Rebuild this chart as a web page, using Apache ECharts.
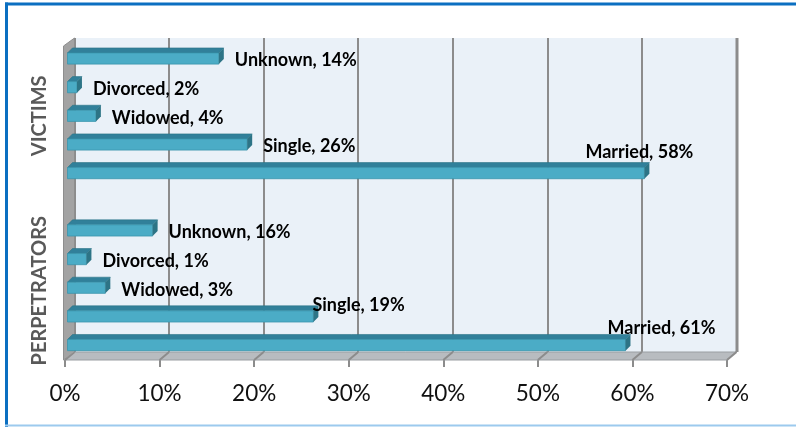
<!DOCTYPE html>
<html><head><meta charset="utf-8">
<script src="https://cdn.jsdelivr.net/npm/echarts@6/dist/echarts.min.js"></script>
<style>html,body{margin:0;padding:0;background:#fff}#c{width:796px;height:427px}</style>
</head><body><div id="c"></div>
<script>
// ---- data ----
const statuses = ["Unknown", "Divorced", "Widowed", "Single", "Married"];
const groups = ["VICTIMS", "PERPETRATORS"];
// bar lengths as drawn (%)
const victimsBar = [16, 1, 3, 19, 61];
const perpsBar = [9, 2, 4, 26, 59];
// values printed in the data labels (%)
const victimsLabelPct = [14, 2, 4, 26, 58];
const perpsLabelPct = [16, 1, 3, 19, 61];
const xTicks = [0, 10, 20, 30, 40, 50, 60, 70];

// ---- label placement tweaks (style, not data) ----
const victimsShift = [[0,0],[0,0],[0,0],[0,0],[-75,-23]];
const perpsShift = [[0,0],[0,0],[0,0],[-17,-13],[-34,-19]];

const rows = [];
const rowIds = [];
statuses.forEach((s, i) => { rowIds.push('V-' + s); rows.push([victimsBar[i], rowIds.length - 1, s + ', ' + victimsLabelPct[i] + '%', victimsShift[i][0], victimsShift[i][1]]); });
rowIds.push('gap');
statuses.forEach((s, i) => { rowIds.push('P-' + s); rows.push([perpsBar[i], rowIds.length - 1, s + ', ' + perpsLabelPct[i] + '%', perpsShift[i][0], perpsShift[i][1]]); });

const FONT = 'Lato, "Open Sans", sans-serif';
const chart = echarts.init(document.getElementById('c'), null, {renderer: 'canvas'});
const xMax = xTicks[xTicks.length - 1];
const D = 5;

chart.setOption({
  animation: false,
  grid: [
    {left: 74.5, top: 38, width: 662, height: 314, show: true, backgroundColor: '#eaf1f8', borderWidth: 0},
    {left: 65, top: 44, width: 662, height: 316},
    {left: 67.5, top: 44.2, width: 662, height: 315.2}
  ],
  xAxis: [
    {gridIndex: 0, type: 'value', min: 0, max: xMax, interval: 10, axisLine: {show: false}, axisTick: {show: false}, axisLabel: {show: false},
     splitLine: {show: true, lineStyle: {color: '#8c8c8c', width: 2}}},
    {gridIndex: 1, type: 'value', min: 0, max: xMax, interval: 10, axisLine: {show: false},
     axisTick: {show: true, length: 7, lineStyle: {color: '#8c8c8c', width: 2}},
     axisLabel: {show: true, formatter: '{value}%', fontFamily: FONT, fontSize: 22.5, color: '#111', margin: 22},
     splitLine: {show: false}},
    {gridIndex: 2, type: 'value', min: 0, max: xMax, show: false, splitLine: {show: false}}
  ],
  yAxis: [
    {gridIndex: 0, type: 'value', show: false, splitLine: {show: false}},
    {gridIndex: 1, type: 'value', show: false, splitLine: {show: false}},
    {gridIndex: 2, type: 'category', data: rowIds, inverse: true, show: false}
  ],
  series: [{
    type: 'custom',
    xAxisIndex: 2, yAxisIndex: 2,
    z: 5,
    data: rows,
    encode: {x: 0, y: 1},
    renderItem: function (params, api) {
      const v = api.value(0), r = api.value(1);
      const p0 = api.coord([0, r]);
      const p1 = api.coord([v, r]);
      const band = api.size([0, 1])[1];
      const h = band * 0.39;
      const x0 = p0[0], x1 = p1[0];
      const top = p0[1] - h / 2, bot = p0[1] + h / 2;
      const d = rows[params.dataIndex];
      return {
        type: 'group',
        children: [
          {type: 'polygon', shape: {points: [[x0, top], [x1, top], [x1 + D, top - D], [x0 + D, top - D]]}, style: {fill: '#31809a', stroke: '#2a7386', lineWidth: 0.6}},
          {type: 'rect', shape: {x: x0, y: top, width: x1 - x0, height: h}, style: {fill: '#4bacc6', stroke: '#3a95ad', lineWidth: 0.8}},
          {type: 'polygon', shape: {points: [[x1, top], [x1 + D, top - D], [x1 + D, bot - D], [x1, bot]]}, style: {fill: '#2d7486'}},
          {type: 'text', x: x1 + D + 11 + d[3], y: p0[1] + 2 + d[4],
           style: {text: d[2], fill: '#000', font: 'bold 18px ' + FONT, textAlign: 'left', textVerticalAlign: 'middle'}}
        ]
      };
    }
  }]
});

// decorations: walls, floor, frame, group titles
const fx = xTicks.map(t => chart.convertToPixel({xAxisIndex: 1}, t));
const bx = xTicks.map(t => chart.convertToPixel({xAxisIndex: 0}, t));
const frontY = 360, backY = 352, wallTopBack = 38, wallTopFront = 46;
const g = [];
g.push({type: 'polygon', z: 1, shape: {points: [[fx[0], frontY], [fx[fx.length - 1], frontY], [bx[bx.length - 1], backY], [bx[0], backY]]}, style: {fill: '#b8bcc0', stroke: '#9a9ea2', lineWidth: 1}});
for (let i = 0; i < xTicks.length; i++) {
  g.push({type: 'line', z: 2, shape: {x1: fx[i], y1: frontY, x2: bx[i], y2: backY}, style: {stroke: '#8c8c8c', lineWidth: 2}});
}
g.push({type: 'polygon', z: 2, shape: {points: [[fx[0] - 1.5, frontY], [fx[0] - 1.5, wallTopFront], [bx[0], wallTopBack], [bx[0], backY]]}, style: {fill: '#a3a3a3', stroke: '#8e8e8e', lineWidth: 1}});
g.push({type: 'line', z: 2, shape: {x1: bx[bx.length - 1] + 0.5, y1: wallTopBack, x2: bx[bx.length - 1] + 0.5, y2: backY}, style: {stroke: '#8c8c8c', lineWidth: 3}});
// group titles centered on their rows
const vc = chart.convertToPixel({yAxisIndex: 2}, rowIds[2]);
const pc = chart.convertToPixel({yAxisIndex: 2}, rowIds[8]);
[[groups[0], vc], [groups[1], pc + 3]].forEach(([t, y]) => {
  g.push({type: 'text', z: 3, x: 40, y: y, rotation: Math.PI / 2,
    style: {text: t, font: 'bold 20px ' + FONT, fill: '#595959', textAlign: 'center', textVerticalAlign: 'middle'}});
});
// frame
g.push({type: 'line', z: 10, shape: {x1: 6.5, y1: 2.5, x2: 6.5, y2: 427}, style: {stroke: '#0b6fc1', lineWidth: 3}});
g.push({type: 'line', z: 10, shape: {x1: 5, y1: 4, x2: 796, y2: 4}, style: {stroke: '#0b6fc1', lineWidth: 3}});
g.push({type: 'line', z: 10, shape: {x1: 5, y1: 425.5, x2: 796, y2: 425.5}, style: {stroke: '#9ccaee', lineWidth: 2}});
chart.setOption({graphic: g});
</script></body></html>
